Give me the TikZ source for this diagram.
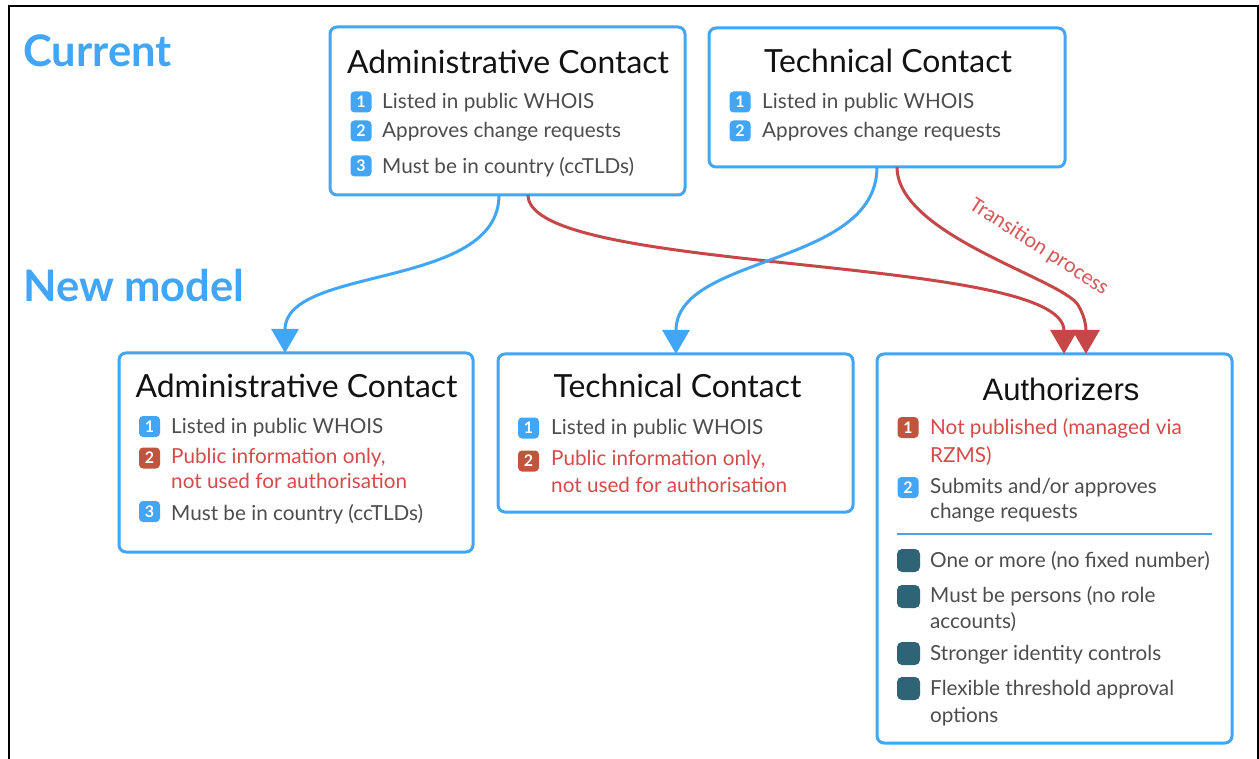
\documentclass[tikz,border=0pt]{standalone}
\usepackage{fontspec}
\setmainfont{Lato}
\newfontfamily\arialf{Liberation Sans}
\newfontfamily\transf{Carlito}
\usetikzlibrary{arrows.meta}
\definecolor{cblue}{HTML}{42A5F5}
\definecolor{cred}{HTML}{C64747}
\definecolor{ctext}{HTML}{4D4D4D}
\definecolor{credtext}{HTML}{D54B4B}
\definecolor{cbadgered}{HTML}{BE553C}
\definecolor{cteal}{HTML}{2F6477}
\definecolor{ctrans}{HTML}{D65A5A}
\newcommand\szHead{43.5}
\newcommand\szTitle{31.9}
\newcommand\szItem{20.7}
\newcommand\szAuth{31}
\newcommand\szTrans{22}
\begin{document}
\begin{tikzpicture}[x=1pt,y=-1pt,
  box/.style={draw=cblue, line width=3pt, rounded corners=7pt, fill=white, inner sep=0pt, outer sep=0pt},
  title/.style={anchor=base, inner sep=0pt, text=black!93, font=\fontsize{\szTitle}{\szTitle}\selectfont},
  item/.style={anchor=base west, inner sep=0pt, text=ctext, font=\fontsize{\szItem}{\szItem}\selectfont},
  reditem/.style={item, text=credtext},
  badge/.style={fill=cblue, rounded corners=4pt, minimum size=21pt, inner sep=0pt, text=white, font=\fontsize{16}{16}\selectfont\bfseries},
  redbadge/.style={badge, fill=cbadgered},
  sq/.style={fill=cteal, rounded corners=5pt, minimum size=23pt, inner sep=0pt},
  heading/.style={anchor=base west, inner sep=0pt, text=cblue, font=\fontsize{\szHead}{\szHead}\selectfont\bfseries},
  bluearrow/.style={draw=cblue, line width=3pt, -{Triangle[width=27pt,length=24pt]}},
  redarrow/.style={draw=cred, line width=3pt, -{Triangle[width=27pt,length=24pt]}}
]
\useasboundingbox (0,0) rectangle (1259,759);
\fill[white] (0,0) rectangle (1259,759);
% frame
\draw[black, line width=2pt] (8.5,759) -- (8.5,6.5) -- (1257.5,6.5) -- (1257.5,759);
% headings
\node[heading] (hcur) at (23,67) {Current};
\node[heading] (hnew) at (23,302) {New model};
% boxes
\node[box, minimum width=355pt, minimum height=168pt] (curA) at (507.5,111) {};
\node[box, minimum width=356pt, minimum height=139pt] (curT) at (887,97.5) {};
\node[box, minimum width=354pt, minimum height=199pt] (newA) at (296,452.5) {};
\node[box, minimum width=355pt, minimum height=158pt] (newT) at (675.5,433) {};
\node[box, minimum width=355pt, minimum height=389pt] (auth) at (1054.5,548.5) {};
% current admin
\node[title] (curAt) at (508,74) {Administrative Contact};
\node[badge] (a1b) at (361,102) {1}; \node[item] (a1) at (382,109) {Listed in public WHOIS};
\node[badge] (a2b) at (361,131) {2}; \node[item] (a2) at (382,138) {Approves change requests};
\node[badge] (a3b) at (361,166) {3}; \node[item] (a3) at (382,174) {Must be in country (ccTLDs)};
% current tech
\node[title] (curTt) at (888,73) {Technical Contact};
\node[badge] (b1b) at (740,102) {1}; \node[item] (b1) at (762,109) {Listed in public WHOIS};
\node[badge] (b2b) at (740,131) {2}; \node[item] (b2) at (762,138) {Approves change requests};
% new admin
\node[title] (newAt) at (296.5,397) {Administrative Contact};
\node[badge] (c1b) at (149.5,426.5) {1}; \node[item] (c1) at (171,433) {Listed in public WHOIS};
\node[redbadge] (c2b) at (149.5,458) {2}; \node[reditem] (c2) at (171,463) {Public information only,};
\node[reditem] (c2l) at (171,488) {not used for authorisation};
\node[badge] (c3b) at (149.5,511.5) {3}; \node[item] (c3) at (171,520) {Must be in country (ccTLDs)};
% new tech
\node[title] (newTt) at (677.5,398) {Technical Contact};
\node[badge] (d1b) at (528.5,428) {1}; \node[item] (d1) at (551,435) {Listed in public WHOIS};
\node[redbadge] (d2b) at (528.5,461) {2}; \node[reditem] (d2) at (551,465) {Public information only,};
\node[reditem] (d2l) at (551,492) {not used for authorisation};
% authorizers
\node[title, font=\arialf\fontsize{\szAuth}{\szAuth}\selectfont] (autht) at (1061,400) {Authorizers};
\node[redbadge] (e1b) at (908,427.5) {1}; \node[reditem] (e1) at (930,435) {Not published (managed via};
\node[reditem] (e1l) at (930,462) {RZMS)};
\node[badge] (e2b) at (908,487.5) {2}; \node[item] (e2) at (930,493) {Submits and/or approves};
\node[item] (e2l) at (930,518) {change requests};
\draw[cblue, line width=2pt] (897,534) -- (1212,534);
\node[sq] (f1b) at (908.5,560.5) {}; \node[item] (f1) at (930,567) {One or more (no fixed number)};
\node[sq] (f2b) at (908.5,596.5) {}; \node[item] (f2) at (930,602) {Must be persons (no role};
\node[item] (f2l) at (930,628) {accounts)};
\node[sq] (f3b) at (908.5,653.5) {}; \node[item] (f3) at (930,660) {Stronger identity controls};
\node[sq] (f4b) at (908.5,688.5) {}; \node[item] (f4) at (930,695) {Flexible threshold approval};
\node[item] (f4l) at (930,722) {options};
% connectors
\draw[redarrow] ([xshift=198pt]curA.south west) .. controls +(0,80) and +(0,-100) .. ([xshift=187pt]auth.north west);
\draw[redarrow] ([xshift=188pt]curT.south west) .. controls +(0,68) and (1062,279) .. (1078,305) .. controls (1086,318) and (1086,330) .. ([xshift=209pt]auth.north west);
\draw[bluearrow] ([xshift=169pt]curA.south west) .. controls +(0,95) and +(0,-88) .. ([xshift=166pt]newA.north west);
\draw[bluearrow] ([xshift=168pt]curT.south west) .. controls +(0,100) and +(0,-100) .. ([xshift=178pt]newT.north west);
\node[inner sep=0pt, text=ctrans, rotate=-33, font=\transf\fontsize{\szTrans}{\szTrans}\selectfont] (trans) at (1039,247) {Transition process};
\end{tikzpicture}
\end{document}
